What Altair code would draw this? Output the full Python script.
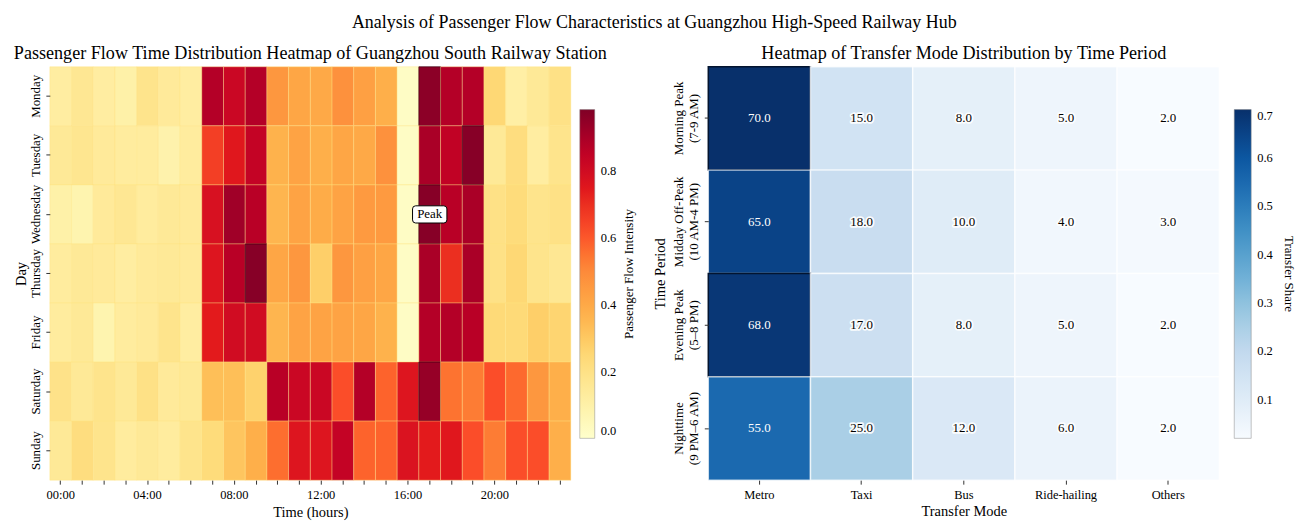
import altair as alt
import pandas as pd

FONT = "Liberation Serif"

# ---------------- Left heatmap data ----------------
days = ["Monday", "Tuesday", "Wednesday", "Thursday", "Friday", "Saturday", "Sunday"]
hours = list(range(24))

monday = [0.12, 0.16, 0.12, 0.10, 0.18, 0.14, 0.12, 0.88, 0.82, 0.88, 0.46, 0.41,
          0.40, 0.48, 0.43, 0.38, 0.02, 0.96, 0.88, 0.88, 0.25, 0.11, 0.15, 0.20]
tuesday = [0.15, 0.17, 0.14, 0.13, 0.13, 0.09, 0.13, 0.66, 0.75, 0.84, 0.37, 0.42,
           0.38, 0.41, 0.40, 0.48, 0.02, 0.90, 0.85, 0.97, 0.15, 0.22, 0.12, 0.18]
wednesday = [0.10, 0.08, 0.14, 0.16, 0.13, 0.15, 0.14, 0.78, 0.92, 0.87, 0.36, 0.42,
             0.39, 0.42, 0.45, 0.45, 0.02, 0.97, 0.87, 0.90, 0.20, 0.23, 0.18, 0.20]
thursday = [0.13, 0.15, 0.14, 0.12, 0.14, 0.15, 0.14, 0.76, 0.87, 0.97, 0.41, 0.46,
            0.28, 0.46, 0.43, 0.41, 0.02, 0.90, 0.70, 0.90, 0.20, 0.25, 0.18, 0.16]
friday = [0.13, 0.15, 0.08, 0.13, 0.14, 0.18, 0.12, 0.74, 0.80, 0.80, 0.36, 0.42,
          0.42, 0.42, 0.41, 0.37, 0.02, 0.88, 0.88, 0.87, 0.24, 0.24, 0.28, 0.26]
saturday = [0.19, 0.15, 0.18, 0.15, 0.20, 0.14, 0.15, 0.33, 0.33, 0.27, 0.87, 0.82,
            0.82, 0.62, 0.88, 0.58, 0.76, 0.94, 0.55, 0.53, 0.62, 0.57, 0.46, 0.38]
sunday = [0.15, 0.22, 0.18, 0.13, 0.15, 0.13, 0.18, 0.23, 0.31, 0.38, 0.56, 0.76,
          0.76, 0.84, 0.58, 0.58, 0.77, 0.74, 0.75, 0.62, 0.53, 0.62, 0.62, 0.38]
flow = [monday, tuesday, wednesday, thursday, friday, saturday, sunday]

peak_day = "Wednesday"
peak_hour = 17

# ---------------- Right heatmap data ----------------
modes = ["Metro", "Taxi", "Bus", "Ride-hailing", "Others"]
periods = ["Morning Peak|(7-9 AM)", "Midday Off-Peak|(10 AM-4 PM)",
           "Evening Peak|(5\u20138 PM)", "Nighttime|(9 PM\u20136 AM)"]
morning = [70, 15, 8, 5, 2]
midday = [65, 18, 10, 4, 3]
evening = [68, 17, 8, 5, 2]
night = [55, 25, 12, 6, 2]
shares = [morning, midday, evening, night]

rows = []
for d, vals in zip(days, flow):
    for h, v in zip(hours, vals):
        rows.append({"day": d, "hour": h, "intensity": v})
df1 = pd.DataFrame(rows)

rows2 = []
for p, vals in zip(periods, shares):
    for m, v in zip(modes, vals):
        rows2.append({"period": p, "mode": m, "pct": v, "share": v / 100.0})
df2 = pd.DataFrame(rows2)
df_periods = pd.DataFrame({"period": periods})

ylorrd = ["#ffffcc", "#ffeda0", "#fed976", "#feb24c", "#fd8d3c",
          "#fc4e2a", "#e31a1c", "#bd0026", "#800026"]
vmax1 = 0.985
dom1 = [vmax1 * i / 8 for i in range(9)]

blues = ["#f7fbff", "#deebf7", "#c6dbef", "#9ecae1", "#6baed6",
         "#4292c6", "#2171b5", "#08519c", "#08306b"]
vmin2, vmax2 = 0.02, 0.70
dom2 = [vmin2 + (vmax2 - vmin2) * i / 8 for i in range(9)]

W1, H = 523, 415
W2 = 513
LBL = 13

# ---------------- Left chart ----------------
xh = alt.X("hour:O", title="Time (hours)",
           scale=alt.Scale(paddingInner=0, paddingOuter=0),
           axis=alt.Axis(labelAngle=0, domain=False, tickSize=4,
                         labelExpr="datum.value % 4 == 0 ? (datum.value < 10 ? '0' : '') + datum.value + ':00' : ''",
                         labelFontSize=12.5, titleFontSize=14.5, titlePadding=5,
                         labelPadding=4))
yd = alt.Y("day:O", title="Day", sort=days,
           scale=alt.Scale(paddingInner=0, paddingOuter=0),
           axis=alt.Axis(labelAngle=270, domain=False, tickSize=4,
                         labelFontSize=LBL, titleFontSize=14.5, titlePadding=1,
                         labelPadding=3))

heat1 = alt.Chart(df1).mark_rect(strokeWidth=0.7).encode(
    x=xh, y=yd,
    color=alt.Color("intensity:Q",
                    scale=alt.Scale(domain=dom1, range=ylorrd, clamp=True),
                    legend=alt.Legend(orient="none", legendX=W1 + 9, legendY=43,
                                      direction="vertical", title=None,
                                      gradientLength=330, gradientThickness=15,
                                      values=[0.0, 0.2, 0.4, 0.6, 0.8], format=".1f",
                                      labelFontSize=12.5, labelOffset=6,
                                      gradientStrokeColor="#888", gradientStrokeWidth=0.5)),
    stroke=alt.condition("datum.intensity > 0.93", alt.value("#3a0010"), alt.value("#ffe680")),
    strokeOpacity=alt.condition("datum.intensity > 0.93", alt.value(1.0), alt.value(0.55)),
)

peak_df = pd.DataFrame({"day": [peak_day], "hour": [peak_hour], "label": ["Peak"]})
box_path = ("M-0.82,-0.5 H0.82 Q1,-0.5 1,-0.32 V0.32 Q1,0.5 0.82,0.5 "
            "H-0.82 Q-1,0.5 -1,0.32 V-0.32 Q-1,-0.5 -0.82,-0.5 Z")
peak_box = alt.Chart(peak_df).mark_point(shape=box_path, size=1190, filled=True,
                                         fill="white", stroke="black", strokeWidth=1,
                                         opacity=1).encode(
    x=alt.X("hour:O"), y=alt.Y("day:O", sort=days))
peak_txt = alt.Chart(peak_df).mark_text(font=FONT, fontSize=13, color="black").encode(
    x=alt.X("hour:O"), y=alt.Y("day:O", sort=days), text="label:N")

cb1_title = alt.Chart(pd.DataFrame({"t": ["Passenger Flow Intensity"]})).mark_text(
    angle=270, font=FONT, fontSize=13, align="center", baseline="middle").encode(
    x=alt.value(W1 + 58), y=alt.value(208), text="t:N")

left = alt.layer(heat1, peak_box, peak_txt, cb1_title).properties(
    width=W1, height=H,
    title=alt.TitleParams("Passenger Flow Time Distribution Heatmap of Guangzhou South Railway Station",
                          anchor="middle", frame="group", fontSize=18.2, offset=3))

# ---------------- Right chart ----------------
xm = alt.X("mode:N", title="Transfer Mode", sort=modes,
           scale=alt.Scale(paddingInner=0, paddingOuter=0),
           axis=alt.Axis(labelAngle=0, domain=False, tickSize=4,
                         labelFontSize=12.5, titleFontSize=14.5, titlePadding=4,
                         labelPadding=4))
yp = alt.Y("period:N", title="Time Period", sort=periods,
           scale=alt.Scale(paddingInner=0, paddingOuter=0),
           axis=alt.Axis(domain=False, tickSize=4, labels=False,
                         titleFontSize=14.5, titlePadding=36))

heat2 = alt.Chart(df2).mark_rect(strokeWidth=1.5).encode(
    x=xm, y=yp,
    color=alt.Color("share:Q",
                    scale=alt.Scale(domain=dom2, range=blues, clamp=True),
                    legend=alt.Legend(orient="none", legendX=W2 + 15, legendY=43,
                                      direction="vertical", title=None,
                                      gradientLength=330, gradientThickness=17,
                                      values=[0.1, 0.2, 0.3, 0.4, 0.5, 0.6, 0.7], format=".1f",
                                      labelFontSize=12.5, labelOffset=6,
                                      gradientStrokeColor="#888", gradientStrokeWidth=0.5)),
    stroke=alt.condition("datum.share >= 0.68", alt.value("#03142f"), alt.value("#ffffff")),
    strokeOpacity=alt.condition("datum.share >= 0.68", alt.value(1.0), alt.value(0.7)),
)

halo = alt.Chart(df2).transform_filter("datum.share < 0.4").mark_text(
    font=FONT, fontSize=13, stroke="white", strokeWidth=3.5, strokeOpacity=0.9,
    strokeJoin="round", color="white").encode(
    x=alt.X("mode:N", sort=modes), y=alt.Y("period:N", sort=periods),
    text=alt.Text("pct:Q", format=".1f"))
labels2 = alt.Chart(df2).mark_text(font=FONT, fontSize=13).encode(
    x=alt.X("mode:N", sort=modes), y=alt.Y("period:N", sort=periods),
    text=alt.Text("pct:Q", format=".1f"),
    color=alt.condition("datum.share >= 0.4", alt.value("white"), alt.value("black")))

ylab1 = alt.Chart(df_periods).transform_calculate(
    line="split(datum.period, '|')[0]").mark_text(
    angle=270, font=FONT, fontSize=LBL, align="center", baseline="middle").encode(
    x=alt.value(-29), y=alt.Y("period:N", sort=periods), text="line:N")
ylab2 = alt.Chart(df_periods).transform_calculate(
    line="split(datum.period, '|')[1]").mark_text(
    angle=270, font=FONT, fontSize=LBL, align="center", baseline="middle").encode(
    x=alt.value(-14), y=alt.Y("period:N", sort=periods), text="line:N")

cb2_title = alt.Chart(pd.DataFrame({"t": ["Transfer Share"]})).mark_text(
    angle=90, font=FONT, fontSize=13, align="center", baseline="middle").encode(
    x=alt.value(W2 + 70), y=alt.value(208), text="t:N")

right = alt.layer(heat2, halo, labels2, ylab1, ylab2, cb2_title).properties(
    width=W2, height=H,
    title=alt.TitleParams("Heatmap of Transfer Mode Distribution by Time Period",
                          anchor="middle", fontSize=18.2, offset=3))

chart = alt.hconcat(left, right, spacing=17).resolve_scale(
    color="independent").resolve_legend(color="independent").properties(
    title=alt.TitleParams("Analysis of Passenger Flow Characteristics at Guangzhou High-Speed Railway Hub",
                          fontSize=18, anchor="middle", offset=9, dy=-3)
).configure(font=FONT).configure_title(
    font=FONT, fontWeight="normal", color="black"
).configure_axis(
    labelFont=FONT, titleFont=FONT, titleFontWeight="normal",
    labelColor="black", titleColor="black", tickColor="#333", grid=False
).configure_legend(labelFont=FONT, labelColor="black").configure_view(stroke=None)

chart.save("out.html", embed_options={"renderer": "svg", "actions": False})
